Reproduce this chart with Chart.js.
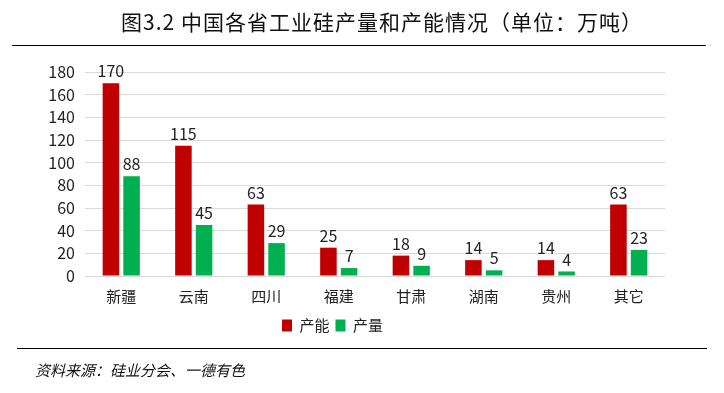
<!DOCTYPE html>
<html>
<head>
<meta charset="utf-8">
<script src="https://cdn.jsdelivr.net/npm/chart.js@4/dist/chart.umd.min.js"></script>
<style>
  html, body { margin: 0; padding: 0; background: #fff; }
  #wrap { width: 724px; height: 393px; }
</style>
</head>
<body>
<div id="wrap"><canvas id="siChart" width="724" height="393"></canvas></div>
<script>
const provinces = ['新疆', '云南', '四川', '福建', '甘肃', '湖南', '贵州', '其它'];
const capacity = [170, 115, 63, 25, 18, 14, 14, 63];
const output = [88, 45, 29, 7, 9, 5, 4, 23];
const yTicks = [0, 20, 40, 60, 80, 100, 120, 140, 160, 180];

const titleText = '图3.2 中国各省工业硅产量和产能情况（单位：万吨）';
const sourceText = '资料来源：硅业分会、一德有色';
const cjk = '"Noto Sans CJK SC", "Noto Sans", sans-serif';

// title, rules, source and value labels
const decorations = {
    id: 'decorations',
    afterDraw(chart) {
        const ctx = chart.ctx;
        ctx.save();
        ctx.fillStyle = '#111';
        ctx.font = '21px ' + cjk;
        ctx.letterSpacing = '1px';
        ctx.textAlign = 'center';
        ctx.textBaseline = 'middle';
        ctx.fillText(titleText, 382, 22);
        ctx.letterSpacing = '0px';

        ctx.strokeStyle = '#000';
        ctx.lineWidth = 1;
        ctx.beginPath();
        ctx.moveTo(12, 45.5);
        ctx.lineTo(706, 45.5);
        ctx.moveTo(17, 348.5);
        ctx.lineTo(707, 348.5);
        ctx.stroke();

        ctx.font = 'italic 15px ' + cjk;
        ctx.textAlign = 'left';
        ctx.fillText(sourceText, 35, 370);

        ctx.font = '16px ' + cjk;
        ctx.textAlign = 'center';
        ctx.textBaseline = 'bottom';
        ctx.fillStyle = '#222';
        chart.data.datasets.forEach((ds, i) => {
            chart.getDatasetMeta(i).data.forEach((bar, j) => {
                ctx.fillText(String(ds.data[j]), bar.x, bar.y - 4);
            });
        });
        ctx.restore();
    }
};

new Chart(document.getElementById('siChart'), {
    type: 'bar',
    data: {
        labels: provinces,
        datasets: [
            { label: '产能', data: capacity, backgroundColor: '#C00000' },
            { label: '产量', data: output, backgroundColor: '#00B050' }
        ]
    },
    options: {
        responsive: false,
        animation: false,
        events: [],
        layout: { padding: { left: 0, right: 59, top: 72, bottom: 50 } },
        datasets: { bar: { categoryPercentage: 0.57, barPercentage: 0.8 } },
        scales: {
            x: {
                grid: { display: false },
                border: { display: false },
                ticks: { color: '#222', font: { family: cjk, size: 15 }, padding: 3 },
                afterFit(scale) { scale.height = 36; }
            },
            y: {
                min: 0,
                max: 180,
                afterBuildTicks(scale) { scale.ticks = yTicks.map(v => ({ value: v })); },
                grid: { color: '#D9D9D9', drawTicks: false },
                border: { display: false },
                ticks: { color: '#222', font: { family: cjk, size: 16 }, padding: 10 },
                afterFit(scale) { scale.width = 85; }
            }
        },
        plugins: {
            legend: {
                position: 'bottom',
                labels: {
                    boxWidth: 10,
                    boxHeight: 12,
                    padding: 6,
                    color: '#222',
                    font: { family: cjk, size: 15 }
                }
            },
            tooltip: { enabled: false }
        }
    },
    plugins: [decorations]
});
</script>
</body>
</html>
